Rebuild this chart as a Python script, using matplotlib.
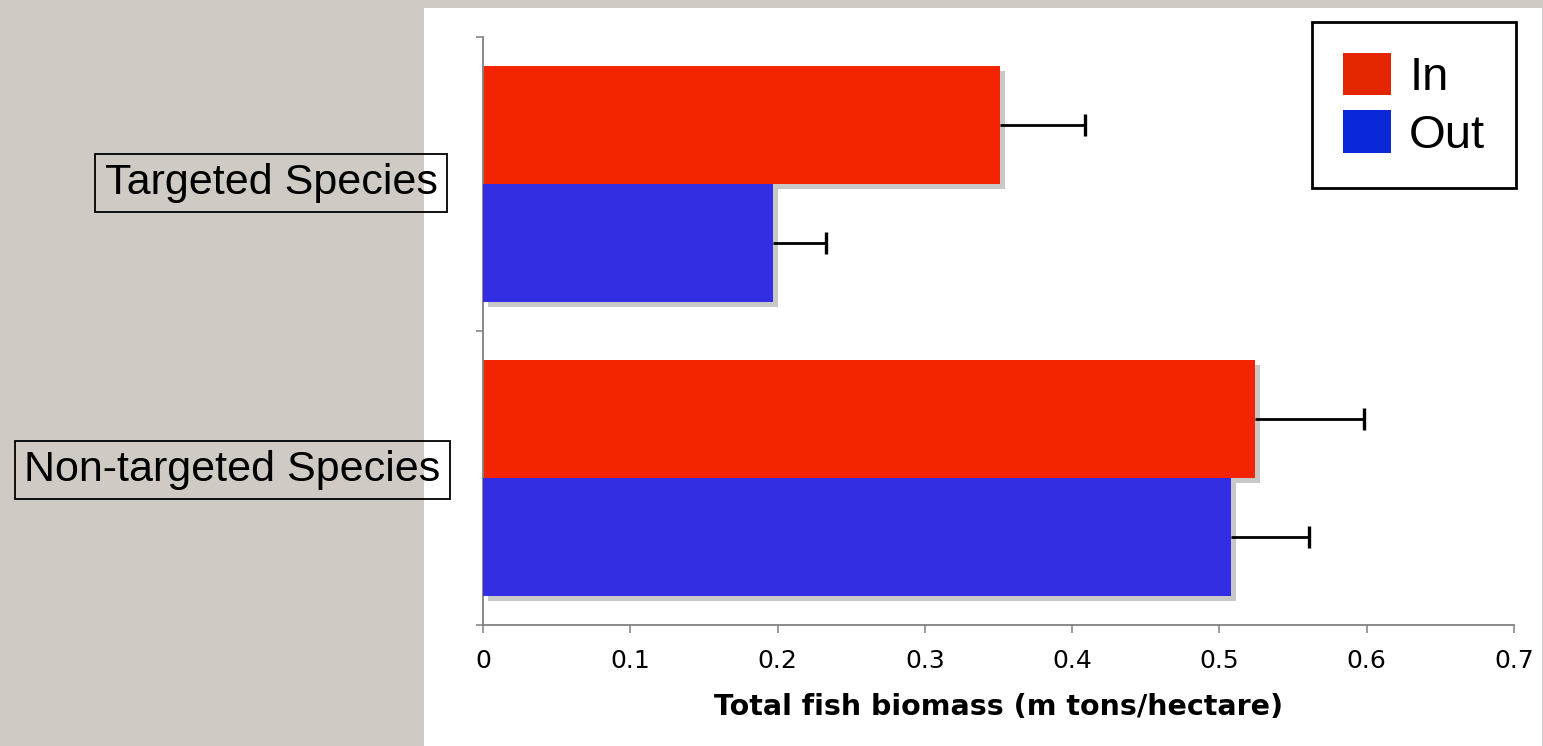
import matplotlib
matplotlib.use("Agg")
import matplotlib.pyplot as plt
import matplotlib.patheffects as pe
import matplotlib.transforms as mtransforms
from matplotlib.patches import Rectangle, Patch
import numpy as np

categories = ["Targeted Species", "Non-targeted Species"]
series_names = ["In", "Out"]
in_values = [0.351, 0.524]
out_values = [0.197, 0.508]
in_err = [0.058, 0.074]
out_err = [0.036, 0.053]
x_ticks = [0, 0.1, 0.2, 0.3, 0.4, 0.5, 0.6, 0.7]
x_ticklabels = ["0", "0.1", "0.2", "0.3", "0.4", "0.5", "0.6", "0.7"]
xlabel = "Total fish biomass (m tons/hectare)"

W, H = 1543, 746
dpi = 100
fig = plt.figure(figsize=(W / dpi, H / dpi), dpi=dpi)
fig.patch.set_facecolor("#cfcbc4")
# white panel
panel = Rectangle((424 / W, 0), (1542 - 424) / W, (H - 8) / H,
                  transform=fig.transFigure, facecolor="white",
                  edgecolor="none", zorder=-10)
fig.patches.append(panel)

ax = fig.add_axes([483 / W, (H - 625) / H, (1514 - 483) / W, (625 - 37) / H])
ax.set_zorder(1)
ax.set_facecolor("none")

y = np.arange(len(categories))
bh = 0.4
red = "#f22500"
blue = "#332ee3"
shadow = [pe.SimplePatchShadow(offset=(3.6, -3.6), shadow_rgbFace="#c8c8c8", alpha=1.0), pe.Normal()]

bars_in = ax.barh(y - bh / 2, in_values, height=bh, color=red, zorder=2)
bars_out = ax.barh(y + bh / 2, out_values, height=bh, color=blue, zorder=3)
for b in list(bars_in) + list(bars_out):
    b.set_path_effects(shadow)

for vals, errs, yy in [(in_values, in_err, y - bh / 2), (out_values, out_err, y + bh / 2)]:
    vals = np.asarray(vals)
    errs = np.asarray(errs)
    ax.hlines(yy, vals, vals + errs, colors="black", linewidth=2, zorder=4)
    ax.plot(vals + errs, yy, linestyle="none", marker="|", markersize=16,
            markeredgewidth=2.4, color="black", zorder=4)

ax.set_xlim(0, 0.7)
ax.set_ylim(len(categories) - 0.5, -0.5)

for s in ["top", "right"]:
    ax.spines[s].set_visible(False)
for s in ["left", "bottom"]:
    ax.spines[s].set_color("#808080")
    ax.spines[s].set_linewidth(1.3)

ax.set_xticks(x_ticks)
ax.set_xticklabels(x_ticklabels, fontsize=18, family="DejaVu Sans")
ax.tick_params(axis="x", direction="out", length=5.5, width=1.1, color="#808080", pad=12)

ax.set_yticks(np.arange(len(categories) + 1) - 0.5)
ax.set_yticklabels([])
ax.tick_params(axis="y", which="major", direction="out", length=5, width=1.1, color="#808080")
ax.set_yticks(y, minor=True)
ax.set_yticklabels(categories, minor=True, fontsize=31, family="Liberation Sans",
                   bbox=dict(boxstyle="square,pad=0.22", facecolor="none", edgecolor="black", linewidth=1.3))
ax.tick_params(axis="y", which="minor", length=0, pad=32)
for lbl, dx, dy in zip(ax.get_yticklabels(minor=True), [-1, 2], [1, 8]):
    lbl.set_verticalalignment("center")
    lbl.set_transform(lbl.get_transform() + mtransforms.ScaledTranslation(dx / dpi, dy / dpi, fig.dpi_scale_trans))

ax.set_xlabel(xlabel, fontsize=20.5, fontweight="bold", family="DejaVu Sans", labelpad=14)

handles = [Patch(facecolor="#e42600", edgecolor="none"), Patch(facecolor="#0a28d8", edgecolor="none")]
leg = fig.legend(handles, series_names, loc="upper right",
                 bbox_to_anchor=(1516 / W, (H - 22) / H), prop={"family": "Liberation Sans", "size": 34},
                 frameon=True, fancybox=False, edgecolor="black", framealpha=1,
                 handlelength=1.02, handleheight=1.0, handletextpad=0.38, borderpad=0.65,
                 labelspacing=0.22, borderaxespad=0)
leg.get_frame().set_linewidth(2)
leg.set_zorder(5)

fig.savefig("out.png", dpi=dpi, facecolor=fig.get_facecolor())
